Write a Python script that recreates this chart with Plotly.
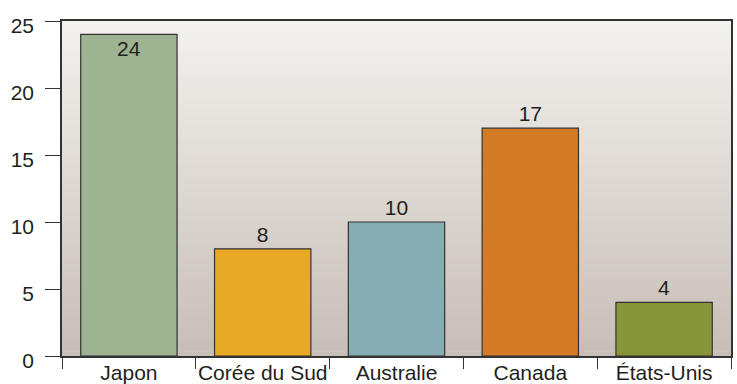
import plotly.graph_objects as go

# Nombre de réacteurs par pays
categories = ["Japon", "Corée du Sud", "Australie", "Canada", "États-Unis"]
values = [24, 8, 10, 17, 4]
colors = ["#9db391", "#e8aa24", "#85adb3", "#d47b27", "#87953a"]
text_positions = ["inside", "outside", "outside", "outside", "outside"]

font_family = "Liberation Sans, Arial, sans-serif"
font_size = 21
text_color = "#231f20"

fig = go.Figure(
    go.Bar(
        x=categories,
        y=values,
        text=[str(v) for v in values],
        textposition=text_positions,
        insidetextanchor="end",
        textfont=dict(family=font_family, size=font_size, color=text_color),
        marker=dict(color=colors, line=dict(color="#333333", width=1.2)),
        width=0.72,
        cliponaxis=False,
    )
)

# Vertical gradient behind the plot area, built from thin strips
top_rgb = (243, 241, 238)
bottom_rgb = (199, 190, 183)
n_strips = 80
shapes = []
for i in range(n_strips):
    t = i / (n_strips - 1)
    c = tuple(round(top_rgb[k] + (bottom_rgb[k] - top_rgb[k]) * t) for k in range(3))
    y1 = 1 - i / n_strips
    y0 = 1 - (i + 1) / n_strips
    shapes.append(dict(
        type="rect", xref="x domain", yref="y domain",
        x0=0, x1=1, y0=y0, y1=y1 + 0.002,
        fillcolor="rgb(%d,%d,%d)" % c, line=dict(width=0), layer="below",
    ))

fig.update_layout(
    width=737,
    height=384,
    margin=dict(l=62, r=6, t=21, b=28, autoexpand=False),
    paper_bgcolor="white",
    plot_bgcolor="rgba(0,0,0,0)",
    shapes=shapes,
    showlegend=False,
    font=dict(family=font_family, size=font_size, color=text_color),
)

fig.update_xaxes(
    type="category",
    automargin=False,
    tickangle=0,
    showline=True, mirror=True, linecolor="#333333", linewidth=1.5,
    ticks="outside", tickson="boundaries", ticklen=11, tickcolor="#333333", tickwidth=1.2,
    showgrid=False, zeroline=False,
    ticklabelstandoff=-3,
    tickfont=dict(family=font_family, size=font_size, color=text_color),
)
fig.update_yaxes(
    range=[0, 25],
    tickvals=[0, 5, 10, 15, 20, 25],
    automargin=False,
    showline=True, mirror=True, linecolor="#333333", linewidth=1.5,
    ticks="outside", ticklen=15, tickcolor="#333333", tickwidth=1.2,
    showgrid=False, zeroline=False,
    ticklabelstandoff=7,
    ticklabelshift=5,
    tickfont=dict(family=font_family, size=font_size, color=text_color),
)

fig.write_html("out.html")
